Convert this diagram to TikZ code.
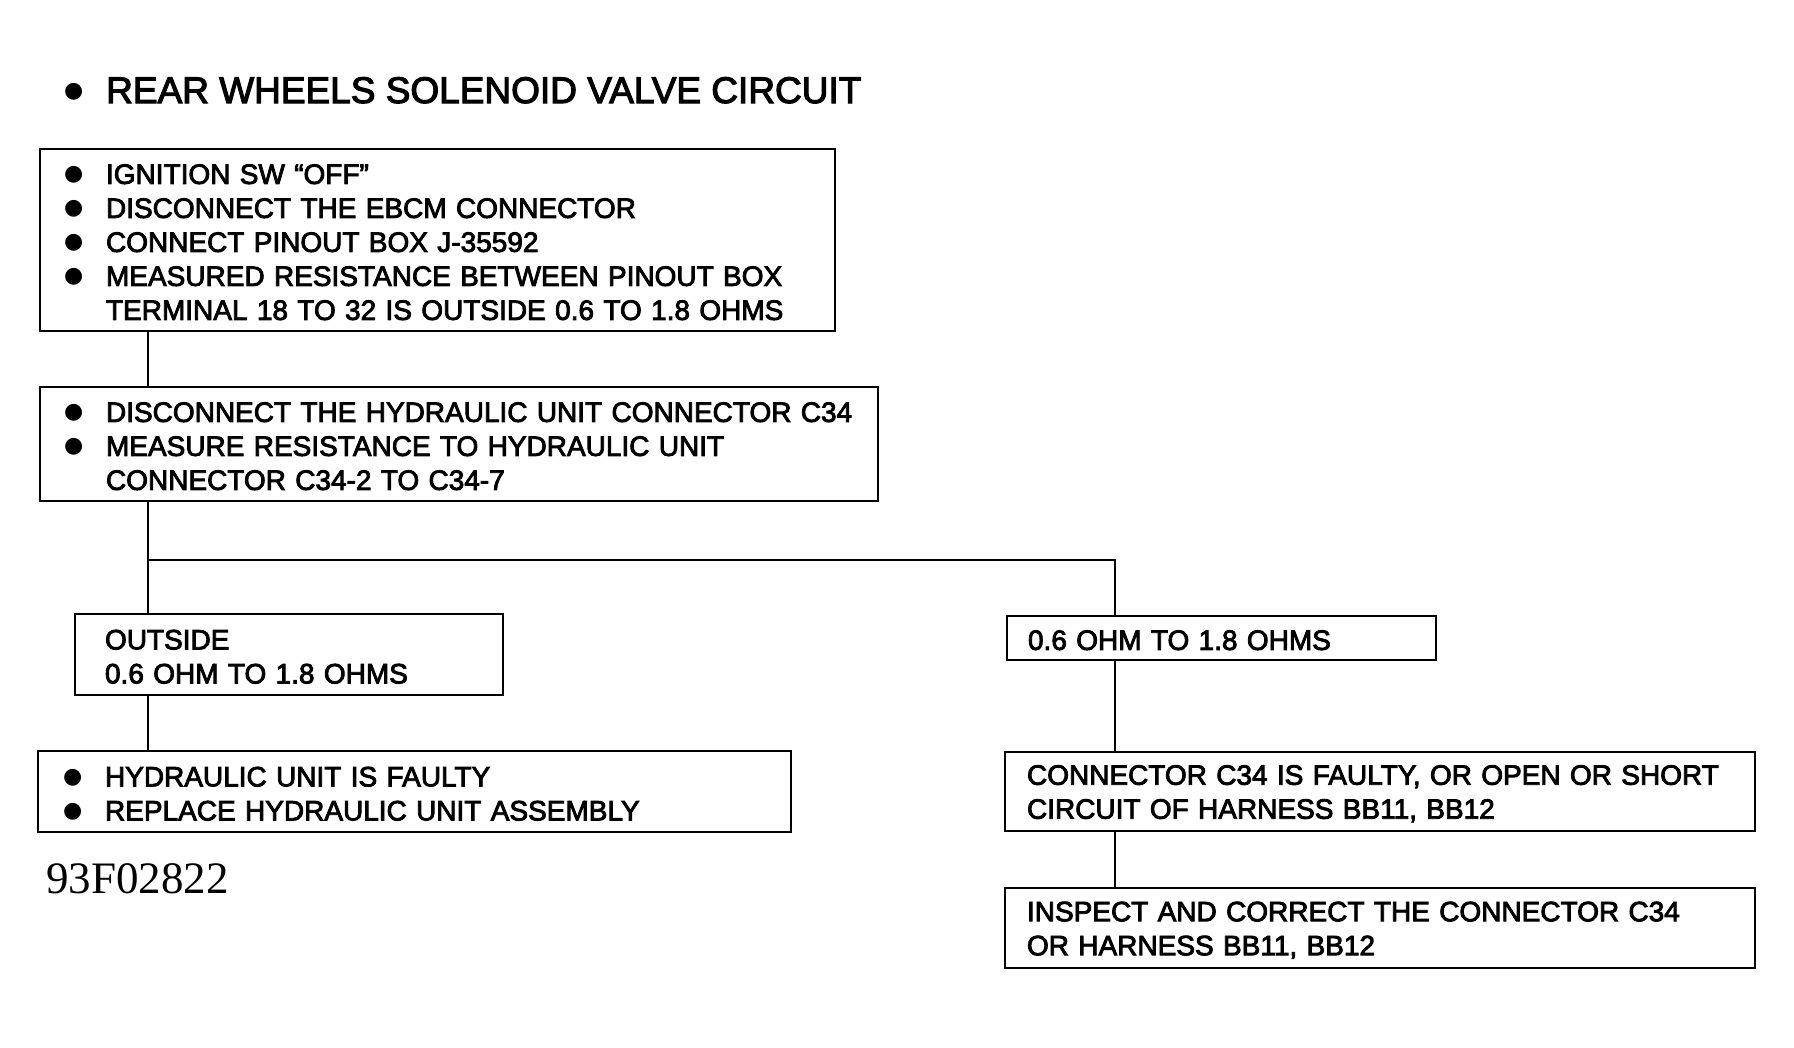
\documentclass[tikz,border=0pt]{standalone}
\usepackage{fontspec}
\setmainfont{Liberation Sans}
\newfontfamily\boxfont{Liberation Sans}[FakeBold=3]
\newfontfamily\codefont{Liberation Serif}
\newfontfamily\dotfont{DejaVu Sans}
\usetikzlibrary{arrows,shapes}
\tikzstyle{stepbox}=[draw, rectangle
,line width=2.6pt
,anchor=north west
,outer sep=0pt
,inner ysep=0pt
,inner xsep=24pt
,align=left
,execute at begin node={\rule{0pt}{24pt}}
,font=\boxfont\fontsize{28}{34}\selectfont
]
\tikzstyle{edge} = [draw,line width=2.4pt,-]
\newcommand{\bul}[1][3pt]{\makebox[42pt][l]{\raisebox{#1}{\dotfont\fontsize{22}{22}\selectfont ●}}}
\newcommand{\ind}{\hspace*{42pt}}

\begin{document}
\begin{tikzpicture}[x=1pt,y=-1pt]
    \useasboundingbox (0,0) rectangle (1794,1047);
    % Title of the chart
    \node[anchor=base west, inner sep=0pt, font=\boxfont\fontsize{37}{37}\selectfont] (title) at (64,103) {\bul[6pt]REAR WHEELS SOLENOID VALVE CIRCUIT};

    % First we draw the boxes
    \node[stepbox, text width=747pt, minimum height=182pt] (ign) at (40,149)
        {\bul IGNITION SW “OFF”\\
         \bul DISCONNECT THE EBCM CONNECTOR\\
         \bul CONNECT PINOUT BOX J-35592\\
         \bul MEASURED RESISTANCE BETWEEN PINOUT BOX\\
         \ind TERMINAL 18 TO 32 IS OUTSIDE 0.6 TO 1.8 OHMS};
    \node[stepbox, text width=790pt, minimum height=114pt] (meas) at (40,387)
        {\bul DISCONNECT THE HYDRAULIC UNIT CONNECTOR C34\\
         \bul MEASURE RESISTANCE TO HYDRAULIC UNIT\\
         \ind CONNECTOR C34-2 TO C34-7};
    \node[stepbox, inner xsep=30pt, text width=368pt, minimum height=81pt] (outs) at (75,614)
        {OUTSIDE\\0.6 OHM TO 1.8 OHMS};
    \node[stepbox, inner xsep=25pt, text width=703pt, minimum height=81pt] (bad) at (38,751)
        {\bul HYDRAULIC UNIT IS FAULTY\\
         \bul REPLACE HYDRAULIC UNIT ASSEMBLY};
    \node[stepbox, inner xsep=21pt, text width=387pt, minimum height=44pt] (ok) at (1007,616)
        {0.6 OHM TO 1.8 OHMS};
    \node[stepbox, inner xsep=22pt, text width=706pt, minimum height=79pt] (conn) at (1005,752)
        {CONNECTOR C34 IS FAULTY, OR OPEN OR SHORT\\CIRCUIT OF HARNESS BB11, BB12};
    \node[stepbox, inner xsep=22pt, text width=706pt, minimum height=80pt] (fix) at (1005,888)
        {INSPECT AND CORRECT THE CONNECTOR C34\\OR HARNESS BB11, BB12};
    \node[anchor=base west, inner sep=0pt, font=\codefont\fontsize{45}{45}\selectfont] (code) at (46,893) {93F02822};

    % Connect boxes with lines
    \coordinate (lft) at (148,560);
    \coordinate (rgt) at (1115,560);
    \foreach \source/\dest in {ign/meas, meas/outs, outs/bad}
        \path[edge] (\source.south -| lft) -- (\dest.north -| lft);
    \foreach \source/\dest in {ok/conn, conn/fix}
        \path[edge] (\source.south -| rgt) -- (\dest.north -| rgt);
    \path[edge] (lft) -- (rgt) -- (ok.north -| rgt);
\end{tikzpicture}
\end{document}
